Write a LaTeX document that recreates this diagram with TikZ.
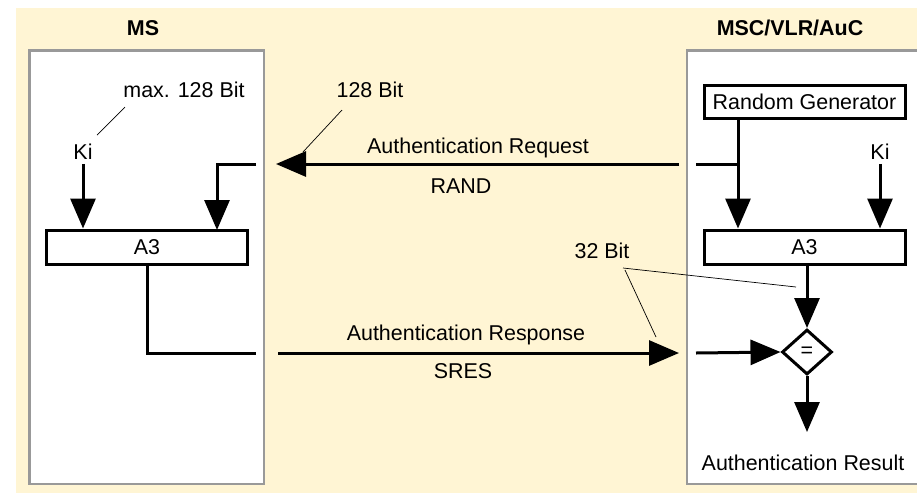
\documentclass[tikz,border=0pt]{standalone}
\usepackage{fontspec}
\setmainfont{Liberation Sans}
\usetikzlibrary{arrows.meta,shapes.geometric}
\definecolor{paper}{HTML}{FFF5D4}
\definecolor{frame}{HTML}{999999}
\begin{document}
\begin{tikzpicture}[x=0.03cm,y=-0.03cm,
  every node/.style={font=\fontsize{18.3}{22}\selectfont},
  title/.style={font=\fontsize{18.3}{22}\selectfont\bfseries},
  unit/.style={draw,line width=0.09cm,fill=white,inner sep=0pt,minimum height=1.02cm},
  flow/.style={line width=0.09cm,-{Triangle[width=0.75cm,length=0.9cm]}},
  wire/.style={line width=0.09cm},
  lead/.style={line width=0.6pt}]
\useasboundingbox (0,0) rectangle (917,493);
\fill[paper] (16,8) rectangle (917,493);
\filldraw[fill=white,draw=frame,line width=0.07cm] (29.5,50.5) rectangle (264,484);
\filldraw[fill=white,draw=frame,line width=0.07cm] (930,50.5) -- (687,50.5) -- (687,484) -- (930,484);
\node[title] (ms) at (143,28) {MS};
\node[title] (msc) at (790,28) {MSC/VLR/AuC};
\node (maxbit) at (184,90) {max. 128 Bit};
\node (ki1) at (83,152) {Ki};
\node[unit,minimum width=6cm] (a3ms) at (147,247) {A3};
\node[unit,minimum width=6.03cm,minimum height=0.99cm] (rg) at (804.5,101.5) {Random Generator};
\node (ki2) at (880,152) {Ki};
\node[unit,minimum width=6.03cm] (a3r) at (804.5,247) {A3};
\node[diamond,draw,line width=0.09cm,fill=white,inner sep=0pt,minimum width=1.5cm,minimum height=1.35cm] (cmp) at (807,352) {=};
\node (result) at (803,463) {Authentication Result};
\node (bit128) at (370,90) {128 Bit};
\node (bit32) at (602,251) {32 Bit};
\node (req) at (478,148) {Authentication Request};
\node (rand) at (461,186) {RAND};
\node (resp) at (466,335) {Authentication Response};
\node (sres) at (463,371) {SRES};
\coordinate (reqin) at (256,164);
\coordinate (randin) at (217,230);
\coordinate (reqstart) at (679,164);
\coordinate (reqend) at (276,164);
\coordinate (randout) at (696,164);
\coordinate (rgout) at (738,118);
\coordinate (resout) at (256,353);
\coordinate (resstart) at (278,353);
\coordinate (resend) at (679,353);
\coordinate (resin) at (696,353);
\coordinate (resultin) at (807,432);
\draw[flow] (ki1.south) -- (ki1.south |- a3ms.north);
\draw[flow] (reqin) -| (randin);
\draw[flow] (reqstart) -- (reqend);
\draw[flow] (rgout) -- (rgout |- a3r.north);
\draw[wire] (randout) -- (randout -| rgout);
\draw[flow] (ki2.south) -- (ki2.south |- a3r.north);
\draw[wire] (a3ms.south) |- (resout);
\draw[flow] (resstart) -- (resend);
\draw[flow] (resin) -- (cmp.west);
\draw[flow] (a3r.south -| cmp.north) -- (cmp.north);
\draw[flow] (cmp.south) -- (resultin);
\draw[lead] (125,107) -- (97,135);
\draw[lead] (342,110) -- (303,152);
\draw[lead] (623,268) -- (796,287);
\draw[lead] (625,270) -- (656,337);
\end{tikzpicture}
\end{document}
